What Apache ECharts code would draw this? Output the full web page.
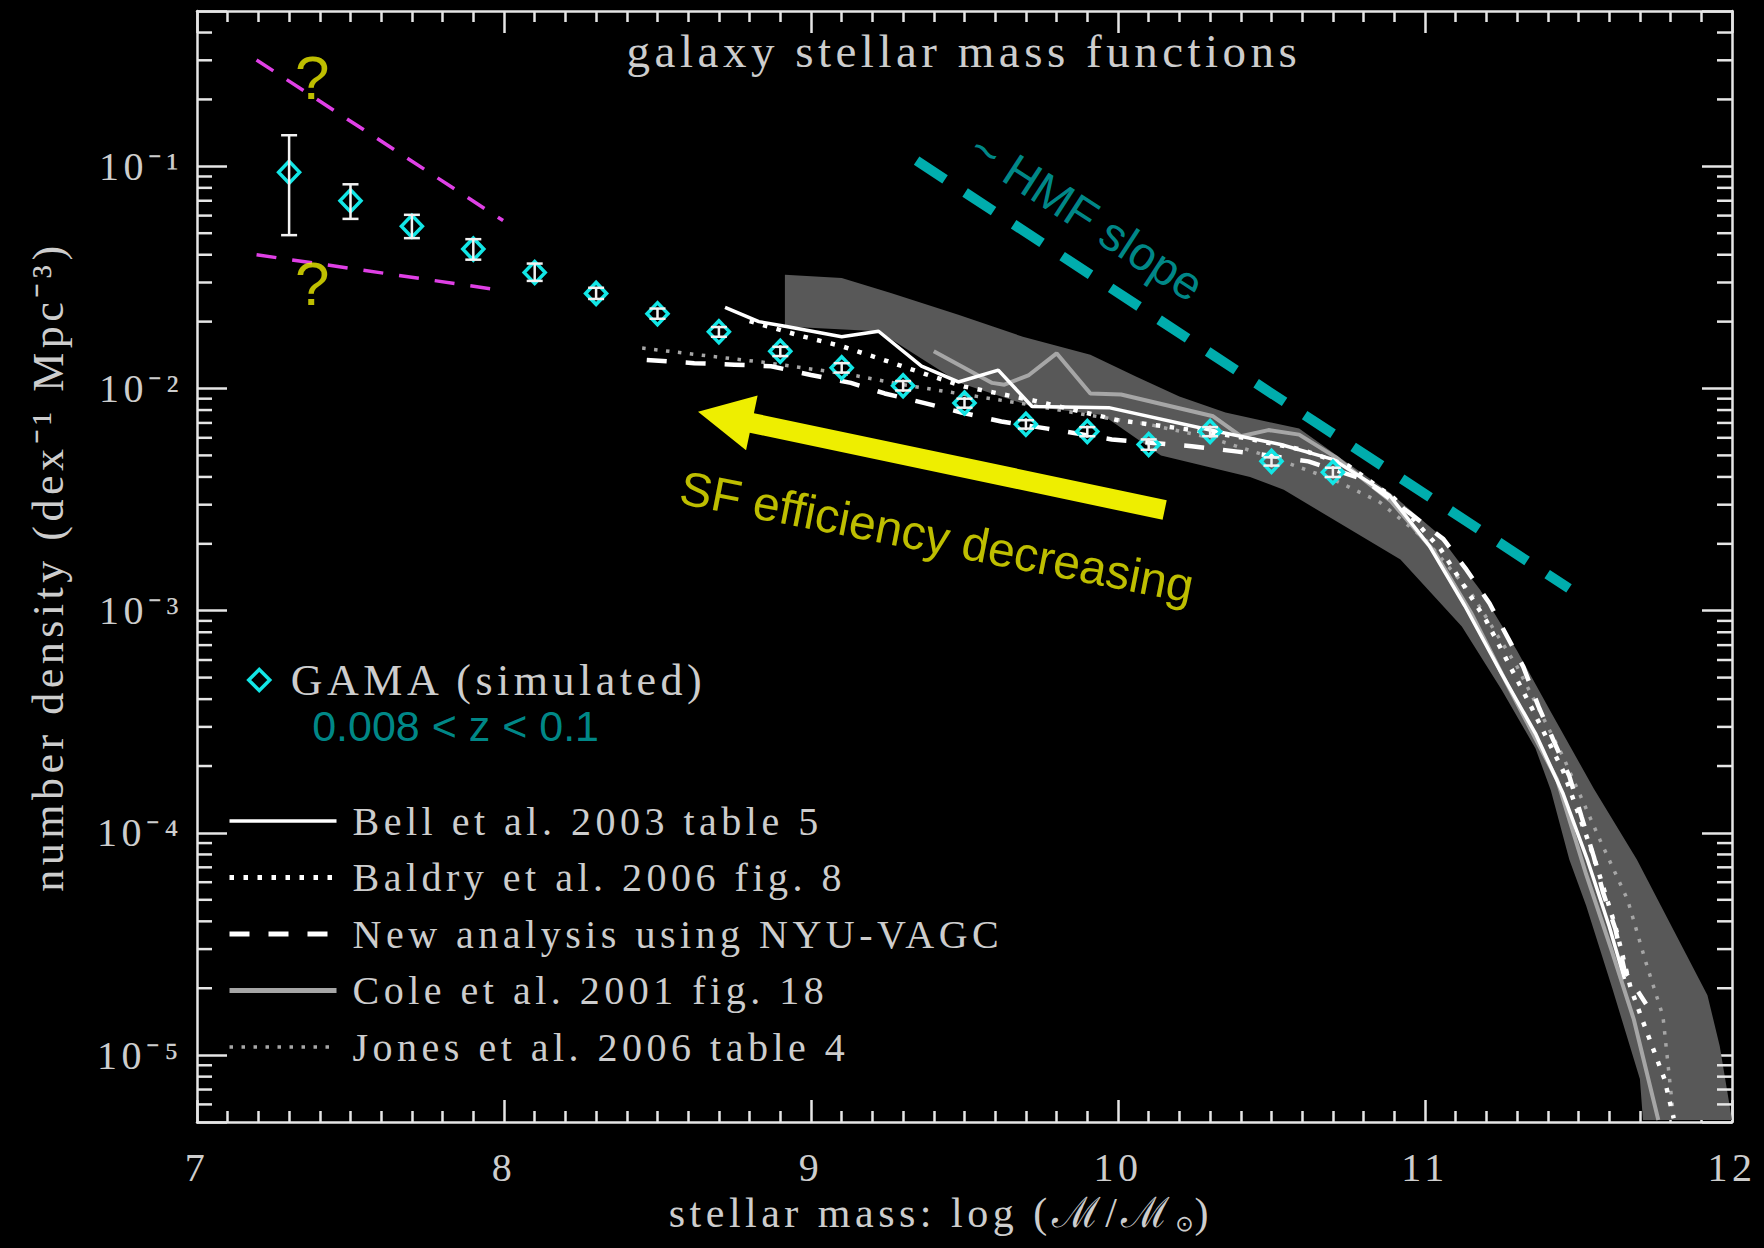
<!DOCTYPE html>
<html>
<head>
<meta charset="utf-8">
<script src="https://cdn.jsdelivr.net/npm/echarts@6/dist/echarts.min.js"></script>
<style>
  html, body { margin: 0; padding: 0; background: #000; }
  #chart { width: 1764px; height: 1248px; }
  /* wide, plotter-style spacing for the serif lettering */
  #chart text[style*="Liberation Serif"] { letter-spacing: 4.5px; }
</style>
</head>
<body>
<div id="chart"></div>
<script>
// ---- GAMA (simulated), 0.008 < z < 0.1 ----
const gamaMass    = [7.3, 7.5, 7.7, 7.9, 8.1, 8.3, 8.5, 8.7, 8.9, 9.1, 9.3, 9.5, 9.7, 9.9, 10.1, 10.3, 10.5, 10.7];
const gamaDensity = [0.094, 0.070, 0.0537, 0.0424, 0.0333, 0.0268, 0.0217, 0.0180, 0.0147, 0.0124, 0.0103, 0.0086, 0.0069, 0.0064, 0.0056, 0.0064, 0.0047, 0.0042];
const gamaLow     = [0.049, 0.058, 0.0475, 0.038, 0.0305, 0.0253, 0.0206, 0.0171, 0.0140, 0.0118, 0.0098, 0.0082, 0.0066, 0.0061, 0.0053, 0.0061, 0.0045, 0.0040];
const gamaHigh    = [0.138, 0.083, 0.0605, 0.047, 0.0365, 0.0284, 0.0229, 0.0189, 0.0154, 0.0130, 0.0108, 0.0090, 0.0072, 0.0067, 0.0059, 0.0067, 0.0049, 0.0044];

// ---- Bell et al. 2003 table 5 ----
const bellMass    = [8.72, 8.83, 8.92, 9.10, 9.22, 9.36, 9.48, 9.61, 9.72, 9.97, 10.30, 10.53, 10.70, 10.885, 11.015, 11.13, 11.25, 11.36, 11.45, 11.53, 11.60, 11.65];
const bellDensity = [0.0232, 0.0200, 0.0190, 0.0171, 0.0181, 0.0126, 0.0107, 0.0121, 0.0083, 0.0082, 0.0065, 0.0056, 0.0048, 0.0033, 0.00195, 0.00105, 0.00052, 0.00028, 0.000150, 0.000075, 0.000038, 0.000022];

// ---- Baldry et al. 2006 fig. 8 ----
const baldryMass    = [8.80, 8.97, 9.10, 9.24, 9.39, 9.50, 9.73, 10.0, 10.28, 10.41, 10.60, 10.75, 10.90, 11.05, 11.20, 11.35, 11.45, 11.55, 11.62, 11.67, 11.72, 11.78, 11.81];
const baldryDensity = [0.0201, 0.0172, 0.0155, 0.0134, 0.0114, 0.0102, 0.0088, 0.0072, 0.0064, 0.0060, 0.0053, 0.0045, 0.0032, 0.0019, 0.00090, 0.00036, 0.00019, 0.000078, 0.000038, 0.000020, 0.000013, 0.0000078, 0.0000052];

// ---- New analysis using NYU-VAGC ----
const nyuMass    = [8.465, 8.62, 8.75, 8.87, 9.0, 9.13, 9.24, 9.37, 9.49, 9.62, 9.77, 9.98, 10.24, 10.39, 10.49, 10.62, 10.80, 10.95, 11.06, 11.135, 11.21, 11.32, 11.37, 11.47, 11.51, 11.55, 11.58, 11.62, 11.65, 11.72];
const nyuDensity = [0.01345, 0.0130, 0.0128, 0.0126, 0.0115, 0.0106, 0.0095, 0.0086, 0.0078, 0.0071, 0.0066, 0.0059, 0.0055, 0.0052, 0.0050, 0.0047, 0.0039, 0.00275, 0.0021, 0.00153, 0.00108, 0.00056, 0.00037, 0.00018, 0.000118, 0.000078, 0.000054, 0.000037, 0.000024, 0.000017];

// ---- Cole et al. 2001 fig. 18 ----
const coleMass    = [9.40, 9.59, 9.63, 9.71, 9.80, 9.91, 10.01, 10.31, 10.40, 10.49, 10.59, 10.71, 10.89, 11.03, 11.15, 11.27, 11.37, 11.43, 11.525, 11.61, 11.68, 11.76];
const coleDensity = [0.0147, 0.0106, 0.0104, 0.0115, 0.0144, 0.0095, 0.0094, 0.0075, 0.0061, 0.0065, 0.0062, 0.0049, 0.0031, 0.00185, 0.00098, 0.00046, 0.00025, 0.000174, 0.000065, 0.000029, 0.0000145, 0.0000051];

// ---- Jones et al. 2006 table 4 ----
const jonesMass    = [8.45, 8.63, 8.85, 9.12, 9.30, 9.50, 9.70, 9.90, 10.10, 10.30, 10.50, 10.70, 10.85, 11.00, 11.15, 11.30, 11.45, 11.57, 11.66, 11.72, 11.775, 11.81];
const jonesDensity = [0.0152, 0.0142, 0.0131, 0.0116, 0.0104, 0.0094, 0.0085, 0.0076, 0.0069, 0.0060, 0.0049, 0.0039, 0.0031, 0.0021, 0.0012, 0.00056, 0.00022, 0.000093, 0.000050, 0.000026, 0.000015, 0.0000052];

// ---- grey envelope ----
const bandUpperMass    = [8.915, 9.10, 9.26, 9.48, 9.69, 9.91, 10.06, 10.20, 10.35, 10.59, 10.73, 10.885, 11.04, 11.18, 11.30, 11.41, 11.55, 11.69, 11.92, 11.96, 12.0];
const bandUpperDensity = [0.0325, 0.0314, 0.0269, 0.0215, 0.0171, 0.0142, 0.0113, 0.0092, 0.0078, 0.0066, 0.0048, 0.0034, 0.00224, 0.00124, 0.00066, 0.00035, 0.000158, 0.000076, 0.0000186, 0.000011, 0.0000051];
const bandLowerMass    = [8.915, 9.22, 9.485, 9.72, 9.95, 10.14, 10.43, 10.54, 10.92, 11.12, 11.25, 11.36, 11.41, 11.47, 11.525, 11.61, 11.70, 11.71];
const bandLowerDensity = [0.0190, 0.0181, 0.0106, 0.0083, 0.0076, 0.0050, 0.0040, 0.0035, 0.0017, 0.00085, 0.00044, 0.00024, 0.000155, 0.000076, 0.000047, 0.000020, 0.0000078, 0.0000051];

// ---- guide lines and arrow (mass, density end points) ----
const hmfSlopeMass    = [9.344, 11.469];
const hmfSlopeDensity = [0.106, 0.00126];
const faintUpperMass    = [7.194, 7.997];
const faintUpperDensity = [0.301, 0.057];
const faintLowerMass    = [7.194, 7.997];
const faintLowerDensity = [0.040, 0.0276];
const arrowMass    = [10.152, 8.632];   // tail, tip
const arrowDensity = [0.00284, 0.00787];

// ---- annotation text anchors ----
const noteText    = ['?', '?', '~ HMF slope', 'SF efficiency decreasing', '0.008 < z < 0.1'];
const noteMass    = [7.375, 7.375, 9.898, 9.410, 7.375];
const noteDensity = [0.2515, 0.0296, 0.0595, 0.00215, 0.000302];

// ---- axes ----
const massMin = 7, massMax = 12, massStep = 1;
const densityMin = 5e-6, densityMax = 0.5;
const xTitle = 'stellar mass: log (ℳ/ℳ';
const yTitle = 'number density (dex⁻¹ Mpc⁻³)';
const chartTitle = 'galaxy stellar mass functions';

const seriesNames = ['Bell et al. 2003 table 5', 'Baldry et al. 2006 fig. 8', 'New analysis using NYU-VAGC', 'Cole et al. 2001 fig. 18', 'Jones et al. 2006 table 4'];

// ---- styling ----
const AX = '#e6e6e6';
const TXT = '#cdcdcd';
const SERIF = 'Liberation Serif';
const SANS = 'Liberation Sans';
const CYAN = '#12e6e6';
const TEAL = '#00adad';
const YELLOW = '#eeee00';
const MAGENTA = '#e040e6';
const GREY_LINE = '#a6a6a6';
const NO_MARK = { color: 'rgba(0,0,0,0)', borderColor: 'rgba(0,0,0,0)', borderWidth: 0 };

const pairs = (xs, ys) => xs.map((x, i) => [x, ys[i]]);

const SUP = { '-': '⁻', '0': '⁰', '1': '¹', '2': '²', '3': '³', '4': '⁴', '5': '⁵', '6': '⁶', '7': '⁷', '8': '⁸', '9': '⁹' };
function powerLabel(v) {
  const e = Math.log10(v);
  const n = Math.round(e);
  if (Math.abs(e - n) > 1e-6) return '';
  return '10' + String(n).split('').map(c => SUP[c]).join('');
}

// log-axis minor tick positions (2..9 x 10^n) inside the axis range
const minorDensityTicks = [];
for (let e = -6; e <= 0; e++) {
  for (let k = 2; k <= 9; k++) {
    const v = k * Math.pow(10, e);
    if (v > densityMin && v < densityMax) minorDensityTicks.push(v);
  }
}

const lineStyleAx = { color: AX, width: 2.5 };

function massAxis(position, withLabels) {
  const ax = {
    type: 'value', position, min: massMin, max: massMax, interval: massStep,
    axisLine: { show: true, onZero: false, lineStyle: lineStyleAx },
    axisTick: { show: true, inside: true, length: 22, lineStyle: lineStyleAx },
    minorTick: { show: true, splitNumber: 10, length: 11, lineStyle: lineStyleAx },
    splitLine: { show: false }, minorSplitLine: { show: false },
    axisLabel: { show: withLabels, color: TXT, fontFamily: SERIF, fontSize: 40, margin: 25 }
  };
  if (withLabels) {
    Object.assign(ax, {
      name: '{m|' + xTitle + '}{s|⊙}{p|)}',
      nameLocation: 'middle', nameGap: 70, nameMoveOverlap: false,
      nameTextStyle: {
        color: TXT, fontFamily: SERIF, fontSize: 42,
        rich: {
          m: { color: TXT, fontFamily: SERIF, fontSize: 42 },
          s: { color: TXT, fontFamily: 'DejaVu Sans', fontSize: 22, verticalAlign: 'bottom', padding: [0, 0, 0, 50] },
          p: { color: TXT, fontFamily: SERIF, fontSize: 42, padding: [0, 0, 0, 3] }
        }
      }
    });
  }
  return ax;
}

function densityAxis(position, withLabels) {
  const ax = {
    type: 'log', logBase: 10, position, min: densityMin, max: densityMax,
    axisLine: { show: true, onZero: false, lineStyle: lineStyleAx },
    axisTick: { show: true, inside: true, length: 30, lineStyle: lineStyleAx },
    splitLine: { show: false },
    axisLabel: { show: withLabels, color: TXT, fontFamily: SERIF, fontSize: 40, margin: 14, formatter: powerLabel }
  };
  if (withLabels) {
    Object.assign(ax, {
      name: yTitle, nameLocation: 'middle', nameRotate: 90, nameGap: 127, nameMoveOverlap: false,
      nameTextStyle: { color: TXT, fontFamily: SERIF, fontSize: 44 }
    });
  }
  return ax;
}

const chart = echarts.init(document.getElementById('chart'), null, { renderer: 'svg', width: 1764, height: 1248 });

const lineSeries = (name, xs, ys, color, width, type, z) => ({
  type: 'line', name, data: pairs(xs, ys), xAxisIndex: 0, yAxisIndex: 0,
  symbol: 'none', silent: true, z,
  lineStyle: { color, width, type, cap: 'butt' },
  itemStyle: { color }
});

chart.setOption({
  backgroundColor: '#000',
  animation: false,
  title: {
    text: chartTitle, left: 964, top: 27, textAlign: 'center', padding: 0,
    textStyle: { color: TXT, fontFamily: SERIF, fontSize: 47, fontWeight: 'normal' }
  },
  grid: { left: 197, top: 11, width: 1535, height: 1111, containLabel: false, outerBoundsMode: 'none' },
  xAxis: [massAxis('bottom', true), massAxis('top', false)],
  yAxis: [densityAxis('left', true), densityAxis('right', false)],
  legend: [
    {
      data: [{ name: 'GAMA (simulated)', icon: 'diamond', itemStyle: { color: 'rgba(0,0,0,0)', borderColor: CYAN, borderWidth: 3.5 } }],
      left: 247, top: 658, padding: 0, itemWidth: 21, itemHeight: 21, selectedMode: false,
      textStyle: { color: TXT, fontFamily: SERIF, fontSize: 44, lineHeight: 40, padding: [0, 0, 0, 16] }
    },
    {
      orient: 'vertical', left: 227, top: 801, padding: 0, itemWidth: 107, itemHeight: 12, itemGap: 16.5, selectedMode: false,
      data: [
        { name: seriesNames[0], lineStyle: { width: 3.5 }, itemStyle: NO_MARK },
        { name: seriesNames[1], lineStyle: { width: 5 }, itemStyle: NO_MARK },
        { name: seriesNames[2], lineStyle: { width: 5 }, itemStyle: NO_MARK },
        { name: seriesNames[3], lineStyle: { width: 5 }, itemStyle: NO_MARK },
        { name: seriesNames[4], lineStyle: { width: 3.5 }, itemStyle: NO_MARK }
      ],
      textStyle: { color: TXT, fontFamily: SERIF, fontSize: 40, padding: [0, 0, 0, 11] }
    }
  ],
  series: [
    // minor ticks of the logarithmic density axis, both sides
    {
      type: 'custom', silent: true, z: 8, xAxisIndex: 0, yAxisIndex: 0,
      data: minorDensityTicks.map(v => [massMin, v]),
      renderItem: (params, api) => {
        const v = api.value(1);
        const l = api.coord([massMin, v]);
        const r = api.coord([massMax, v]);
        const st = { stroke: AX, lineWidth: 2.5 };
        return {
          type: 'group', children: [
            { type: 'line', shape: { x1: l[0], y1: l[1], x2: l[0] + 15, y2: l[1] }, style: st },
            { type: 'line', shape: { x1: r[0] - 15, y1: r[1], x2: r[0], y2: r[1] }, style: st }
          ]
        };
      }
    },
    // grey envelope
    {
      type: 'custom', silent: true, z: 1, xAxisIndex: 0, yAxisIndex: 0,
      data: [[bandUpperMass[0], bandUpperDensity[0]]],
      renderItem: (params, api) => {
        const pts = [];
        for (let i = 0; i < bandUpperMass.length; i++) pts.push(api.coord([bandUpperMass[i], bandUpperDensity[i]]));
        for (let i = bandLowerMass.length - 1; i >= 0; i--) pts.push(api.coord([bandLowerMass[i], bandLowerDensity[i]]));
        return { type: 'polygon', shape: { points: pts }, style: { fill: '#585858' } };
      }
    },
    lineSeries(seriesNames[4], jonesMass, jonesDensity, GREY_LINE, 3.5, [3.5, 8.5], 3),
    lineSeries(seriesNames[3], coleMass, coleDensity, GREY_LINE, 4, 'solid', 3),
    lineSeries(seriesNames[2], nyuMass, nyuDensity, '#ffffff', 4.5, [20, 19], 4),
    lineSeries(seriesNames[1], baldryMass, baldryDensity, '#ffffff', 4.5, [4.5, 9.5], 4),
    lineSeries(seriesNames[0], bellMass, bellDensity, '#ffffff', 3.5, 'solid', 4),
    // HMF slope guide
    {
      type: 'line', data: pairs(hmfSlopeMass, hmfSlopeDensity), symbol: 'none', silent: true, z: 3,
      lineStyle: { color: TEAL, width: 10, type: [34, 24], cap: 'butt' }
    },
    // faint-end bounds
    {
      type: 'line', data: pairs(faintUpperMass, faintUpperDensity), symbol: 'none', silent: true, z: 3,
      lineStyle: { color: MAGENTA, width: 3.5, type: [20, 16], cap: 'butt' }
    },
    {
      type: 'line', data: pairs(faintLowerMass, faintLowerDensity), symbol: 'none', silent: true, z: 3,
      lineStyle: { color: MAGENTA, width: 3.5, type: [20, 16], cap: 'butt' }
    },
    // SF efficiency arrow
    {
      type: 'custom', silent: true, z: 4,
      data: [[arrowMass[0], arrowDensity[0], arrowMass[1], arrowDensity[1]]],
      renderItem: (params, api) => {
        const t = api.coord([api.value(0), api.value(1)]);
        const h = api.coord([api.value(2), api.value(3)]);
        const dx = h[0] - t[0], dy = h[1] - t[1], L = Math.hypot(dx, dy);
        const ux = dx / L, uy = dy / L, nx = -uy, ny = ux;
        const shaft = 10, headLen = 55, headHalf = 28;
        const bx = h[0] - ux * headLen, by = h[1] - uy * headLen;
        const pts = [
          [t[0] + nx * shaft, t[1] + ny * shaft],
          [bx + nx * shaft, by + ny * shaft],
          [bx + nx * headHalf, by + ny * headHalf],
          [h[0], h[1]],
          [bx - nx * headHalf, by - ny * headHalf],
          [bx - nx * shaft, by - ny * shaft],
          [t[0] - nx * shaft, t[1] - ny * shaft]
        ];
        return { type: 'polygon', shape: { points: pts }, style: { fill: YELLOW } };
      }
    },
    // GAMA diamonds
    {
      type: 'scatter', name: 'GAMA (simulated)', data: pairs(gamaMass, gamaDensity), silent: true, z: 5,
      symbol: 'diamond', symbolSize: [21, 22],
      itemStyle: { color: 'rgba(0,0,0,0)', borderColor: CYAN, borderWidth: 3.5, opacity: 1 }
    },
    // GAMA error bars
    {
      type: 'custom', silent: true, z: 6,
      data: gamaMass.map((m, i) => [m, gamaDensity[i], gamaLow[i], gamaHigh[i]]),
      renderItem: (params, api) => {
        const x = api.value(0);
        const c = api.coord([x, api.value(1)]);
        const pl = api.coord([x, api.value(2)]);
        const ph = api.coord([x, api.value(3)]);
        const top = Math.min(ph[1], c[1] - 6), bot = Math.max(pl[1], c[1] + 6);
        const cap = 8;
        const st = { stroke: '#f2f2f2', lineWidth: 2.5 };
        return {
          type: 'group', children: [
            { type: 'line', shape: { x1: c[0], y1: top, x2: c[0], y2: bot }, style: st },
            { type: 'line', shape: { x1: c[0] - cap, y1: ph[1], x2: c[0] + cap, y2: ph[1] }, style: st },
            { type: 'line', shape: { x1: c[0] - cap, y1: pl[1], x2: c[0] + cap, y2: pl[1] }, style: st }
          ]
        };
      }
    },
    // annotations
    {
      type: 'scatter', silent: true, z: 7, symbolSize: 1,
      itemStyle: { color: 'rgba(0,0,0,0)' },
      data: [
        { value: [noteMass[0], noteDensity[0]], label: { show: true, position: 'inside', formatter: noteText[0], color: YELLOW, fontFamily: SANS, fontSize: 62 } },
        { value: [noteMass[1], noteDensity[1]], label: { show: true, position: 'inside', formatter: noteText[1], color: YELLOW, fontFamily: SANS, fontSize: 62 } },
        { value: [noteMass[2], noteDensity[2]], label: { show: true, position: 'inside', formatter: noteText[2], color: TEAL, fontFamily: SANS, fontSize: 47, rotate: -33 } },
        { value: [noteMass[3], noteDensity[3]], label: { show: true, position: 'inside', formatter: noteText[3], color: YELLOW, fontFamily: SANS, fontSize: 48, rotate: -11 } },
        { value: [noteMass[4], noteDensity[4]], label: { show: true, position: 'inside', align: 'left', formatter: noteText[4], color: TEAL, fontFamily: SANS, fontSize: 43, lineHeight: 38 } }
      ]
    }
  ]
});
</script>
</body>
</html>
